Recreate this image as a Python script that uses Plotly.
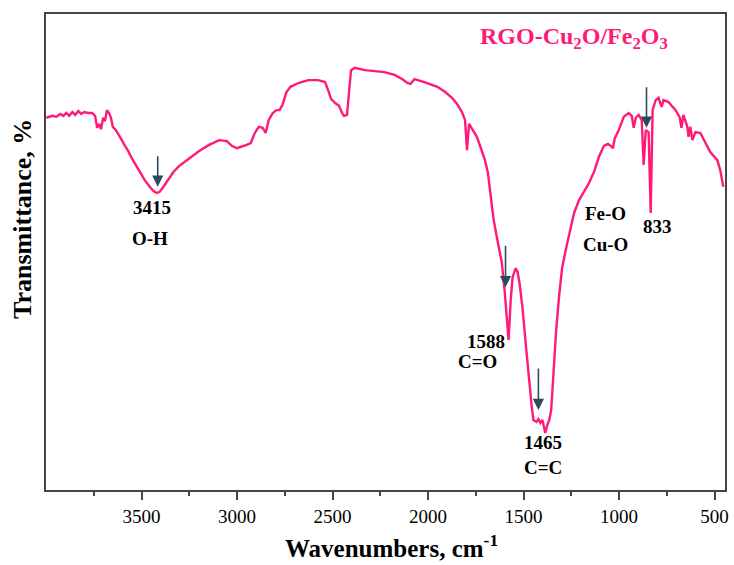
import plotly.graph_objects as go

# FTIR spectrum of RGO-Cu2O/Fe2O3 (wavenumber in cm^-1, transmittance in arbitrary %)
wavenumber = [
    3998, 3966, 3945, 3925, 3909, 3894, 3878, 3862, 3847, 3831, 3815, 3800, 3779, 3758,
    3743, 3732, 3722, 3712, 3701, 3691, 3681, 3670, 3660, 3650, 3634, 3618, 3603, 3587,
    3572, 3551, 3530, 3509, 3483, 3457, 3437, 3421, 3406, 3385, 3364, 3333, 3302, 3250,
    3198, 3146, 3094, 3053, 3027, 3001, 2975, 2949, 2928, 2907, 2886, 2866, 2850, 2834,
    2813, 2793, 2777, 2762, 2741, 2720, 2679, 2627, 2575, 2539, 2523, 2507, 2486, 2466,
    2450, 2440, 2424, 2414, 2403, 2383, 2331, 2227, 2175, 2134, 2108, 2092, 2071, 2019,
    1951, 1910, 1874, 1848, 1822, 1806, 1796, 1785, 1765, 1744, 1723, 1702, 1687, 1671,
    1656, 1640, 1624, 1614, 1599, 1588, 1578, 1567, 1557, 1541, 1531, 1521, 1505, 1490,
    1474, 1458, 1448, 1432, 1422, 1412, 1401, 1391, 1386, 1375, 1365, 1355, 1344, 1329,
    1313, 1298, 1277, 1256, 1235, 1209, 1183, 1157, 1131, 1105, 1079, 1058, 1043, 1032,
    1022, 1001, 975, 949, 933, 923, 912, 897, 881, 871, 860, 845, 834, 824,
    808, 793, 777, 767, 741, 704, 683, 673, 663, 642, 636, 626, 616, 600,
    574, 548, 522, 485, 470, 454,
]
transmittance = [
    78.2, 78.6, 78.4, 79.0, 78.6, 79.2, 78.6, 79.4, 78.8, 79.6, 79.0, 79.4, 79.2, 79.2,
    78.6, 76.1, 76.9, 75.8, 78.2, 77.5, 79.8, 79.2, 78.2, 76.3, 75.6, 74.6, 73.5, 72.3,
    71.4, 69.7, 68.3, 67.0, 65.1, 63.7, 62.8, 62.4, 62.6, 63.7, 64.9, 66.8, 68.1, 69.7,
    71.2, 72.5, 73.5, 73.3, 72.3, 71.8, 72.1, 72.5, 72.9, 75.0, 76.3, 76.1, 75.0, 77.7,
    79.2, 79.8, 79.8, 80.9, 83.6, 84.7, 85.5, 86.1, 86.1, 85.7, 84.0, 82.1, 81.3, 80.7,
    79.2, 78.6, 78.8, 84.0, 88.2, 88.7, 88.2, 87.8, 87.2, 86.3, 85.5, 85.3, 86.3, 85.7,
    84.7, 83.6, 82.4, 81.1, 79.4, 77.7, 71.4, 76.9, 75.6, 74.2, 71.8, 69.3, 66.8, 62.0,
    56.7, 53.2, 50.0, 47.9, 42.0, 36.8, 31.5, 39.9, 44.7, 46.6, 45.8, 43.5, 38.2, 31.5,
    24.2, 17.9, 14.7, 14.3, 14.9, 14.1, 14.7, 12.6, 12.0, 13.7, 14.7, 16.8, 24.2, 33.6,
    41.0, 46.6, 50.8, 54.6, 58.2, 60.9, 62.6, 64.5, 66.8, 70.0, 72.3, 72.7, 72.3, 71.8,
    73.9, 75.6, 78.4, 79.2, 78.6, 76.1, 78.2, 78.8, 77.7, 68.3, 75.6, 75.2, 58.2, 79.8,
    81.9, 82.4, 80.5, 81.9, 81.5, 79.8, 78.4, 76.1, 78.8, 76.3, 74.2, 76.3, 73.5, 75.2,
    75.0, 72.9, 71.0, 69.3, 67.2, 63.7,
]

# Band markers: arrow x, arrow tip y, arrow length in px
arrow_x = [3415, 1594, 1422, 856]
arrow_tip_y = [63.7, 42.6, 16.8, 76.1]
arrow_len = [32, 43, 43, 42]

# Band labels: text, x (cm^-1), y
label_text = ["3415", "O-H", "1588", "C=O", "1465", "C=C", "Fe-O", "Cu-O", "833"]
label_x = [3445, 3455, 1697, 1739, 1396, 1396, 1069, 1069, 799]
label_y = [59.4, 52.8, 31.1, 26.9, 9.9, 4.8, 58.0, 51.5, 55.3]

LINE_COLOR = "#FF1A7A"
ARROW_COLOR = "#2B4A5C"
FONT = "Liberation Serif"

fig = go.Figure()
fig.add_trace(go.Scatter(
    x=wavenumber, y=transmittance, mode="lines",
    line=dict(color=LINE_COLOR, width=2.4, shape="linear"),
    showlegend=False, hoverinfo="skip",
))

for xv, yv, ln in zip(arrow_x, arrow_tip_y, arrow_len):
    fig.add_annotation(
        x=xv, y=yv, xref="x", yref="y", text="", showarrow=True,
        ax=0, ay=-ln, arrowhead=2, arrowsize=1.4, arrowwidth=1.6,
        arrowcolor=ARROW_COLOR,
    )

for txt, xv, yv in zip(label_text, label_x, label_y):
    fig.add_annotation(
        x=xv, y=yv, xref="x", yref="y", text=f"<b>{txt}</b>", showarrow=False,
        font=dict(family=FONT, size=19, color="black"),
    )

fig.add_annotation(
    x=1235, y=95, xref="x", yref="y",
    text="<b>RGO-Cu<sub>2</sub>O/Fe<sub>2</sub>O<sub>3</sub></b>",
    showarrow=False, font=dict(family=FONT, size=24, color=LINE_COLOR),
)

# Axis titles as paper-anchored annotations
fig.add_annotation(
    x=-0.035, y=0.57, xref="paper", yref="paper", xanchor="center", yanchor="middle",
    text="<b>Transmittance, %</b>", textangle=-90, showarrow=False,
    font=dict(family=FONT, size=26, color="black"),
)
fig.add_annotation(
    x=0.509, y=-0.118, xref="paper", yref="paper", xanchor="center", yanchor="middle",
    text="<b>Wavenumbers, cm<sup>-1</sup></b>", showarrow=False,
    font=dict(family=FONT, size=25, color="black"),
)

fig.update_xaxes(
    range=[4000, 445], showline=True, linecolor="#444", linewidth=1.5, mirror=True,
    ticks="outside", tickwidth=1.5, ticklen=8, tickcolor="#444",
    tickvals=[3500, 3000, 2500, 2000, 1500, 1000, 500],
    minor=dict(tickvals=[3750, 3250, 2750, 2250, 1750, 1250, 750], ticks="outside",
               ticklen=4, tickwidth=1.5, tickcolor="#444"),
    tickfont=dict(family=FONT, size=19, color="black"),
    showgrid=False, zeroline=False,
)
fig.update_yaxes(
    range=[0, 100], showline=True, linecolor="#444", linewidth=1.5, mirror=True,
    showticklabels=False, ticks="", showgrid=False, zeroline=False,
)

fig.update_layout(
    width=734, height=565, plot_bgcolor="white", paper_bgcolor="white",
    margin=dict(l=46, r=5, t=14, b=75),
)

fig.write_html("out.html")
